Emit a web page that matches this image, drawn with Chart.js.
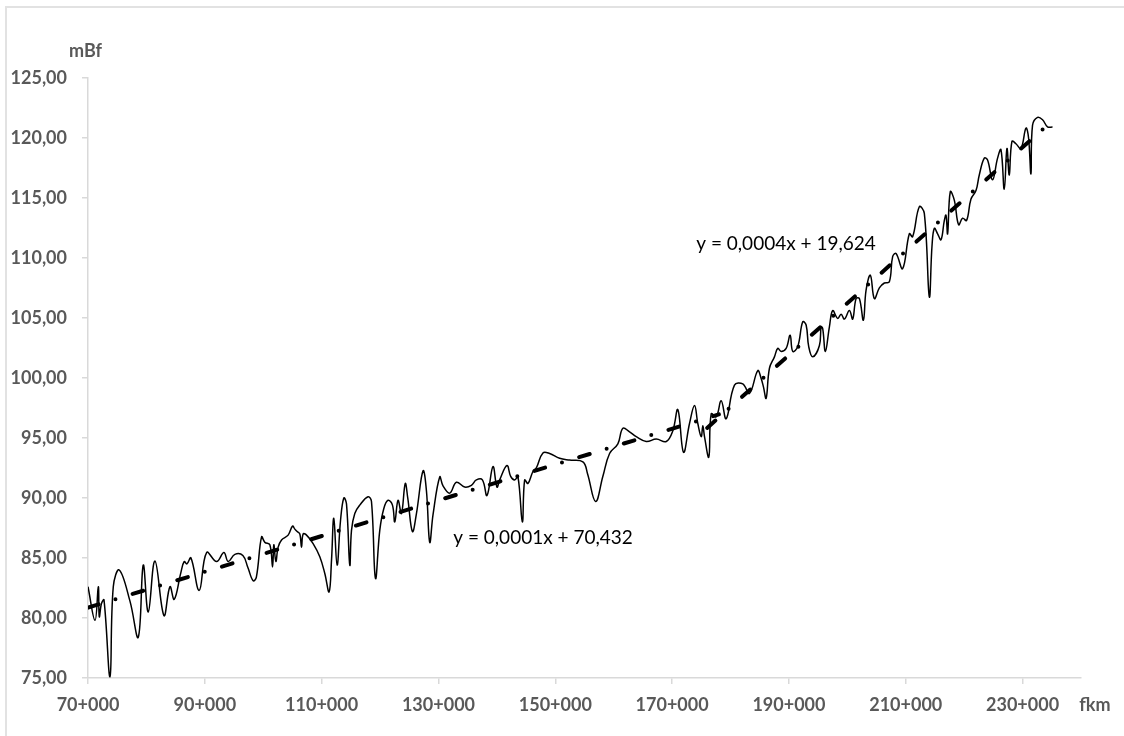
<!DOCTYPE html>
<html>
<head>
<meta charset="utf-8">
<title>mBf – fkm</title>
<script src="https://cdn.jsdelivr.net/npm/chart.js@4.4.1/dist/chart.umd.min.js"></script>
<style>
  html, body { margin: 0; padding: 0; background: #ffffff; }
  #wrap { position: relative; width: 1124px; height: 736px; overflow: hidden; }
  #frame { position: absolute; left: 5px; top: 6px; width: 1200px; height: 800px;
           border-left: 2px solid #e2e2e2; border-top: 2px solid #e2e2e2; box-sizing: border-box; }
  canvas { position: absolute; left: 0; top: 0; }
</style>
</head>
<body>
<div id="wrap">
  <div id="frame"></div>
  <canvas id="chart" width="1124" height="736"></canvas>
</div>
<script>
// Chainage along the river (m) and water level (m above Baltic)
const chainage = [
  70000, 71197, 71762, 71933, 72309, 72737, 73763, 74328, 75354, 77185,
  78604, 79460, 80315, 81461, 83001, 84027, 84763, 85909, 86473, 86935,
  87619, 89039, 90305, 92015, 93264, 93999, 95146, 96514, 97370, 98276,
  98824, 99713, 100278, 101133, 101595, 101817, 102159, 102553, 103134, 104263,
  105016, 105409, 105803, 106265, 106555, 106829, 107411, 108540, 109686, 110541,
  111277, 111688, 112081, 112646, 113227, 113791, 114253, 114818, 115109, 115673,
  116528, 117948, 118530, 119214, 119950, 120634, 121370, 122122, 122515, 123080,
  123661, 124312, 124740, 125544, 126228, 127357, 127939, 128503, 129068, 130213,
  130778, 131924, 133070, 134490, 135636, 136491, 137518, 138305, 139331, 140015,
  140477, 141726, 142359, 143043, 143608, 144360, 144754, 145318, 146174, 146755,
  147884, 149030, 150740, 152451, 154726, 155530, 156899, 158147, 159293, 160713,
  161569, 162715, 163861, 165571, 167282, 168993, 170122, 170977, 171952, 172978,
  173834, 174398, 174980, 175253, 175544, 176280, 176690, 177546, 178401, 179256,
  180676, 182096, 183242, 184661, 185243, 185637, 186098, 186663, 187518, 188083,
  188664, 189520, 190204, 190649, 191504, 192359, 192941, 193386, 194070, 195216,
  195507, 195781, 196242, 196927, 197491, 198347, 198928, 199493, 200348, 200913,
  201494, 202059, 202743, 203205, 203940, 204625, 205480, 206335, 207191, 207755,
  208337, 209466, 210612, 211176, 212322, 213177, 214033, 214494, 214888, 215452,
  216034, 216598, 216889, 217163, 217625, 218309, 219045, 219729, 220413, 221166,
  222021, 222586, 223441, 224006, 224861, 225717, 226298, 226863, 227325, 227718,
  228180, 228864, 229720, 230575, 231020, 231430, 231704, 232560, 233415, 234270,
  235126
];
const waterLevel = [
  82.6, 79.8, 82.6, 80.1, 81.2, 81.5, 75.1, 82.6, 84.0, 81.4,
  78.4, 84.4, 80.5, 84.75, 80.2, 82.6, 81.55, 83.8, 84.7, 84.5,
  85.0, 82.3, 85.45, 84.7, 85.45, 84.7, 85.3, 85.2, 84.2, 83.1,
  83.4, 86.75, 86.3, 86.1, 84.25, 86.1, 84.7, 85.9, 86.5, 86.9,
  87.65, 87.4, 87.2, 87.0, 85.9, 87.0, 86.9, 86.2, 85.1, 83.7,
  82.17, 84.8, 88.3, 84.4, 88.1, 90.0, 89.5, 84.4, 87.3, 88.7,
  89.4, 90.1, 89.7, 83.3, 87.3, 89.1, 89.8, 89.4, 88.0, 89.8,
  88.7, 91.2, 90.0, 87.2, 88.7, 92.25, 90.6, 86.3, 88.6, 91.75,
  91.0, 90.4, 91.3, 90.9, 91.05, 91.5, 91.5, 90.2, 92.6, 90.9,
  91.5, 92.7, 91.8, 91.5, 91.75, 88.0, 91.5, 91.2, 92.2, 92.5,
  93.75, 93.7, 93.3, 93.15, 93.0, 92.0, 89.7, 91.8, 93.7, 94.5,
  95.8, 95.5, 95.1, 94.7, 94.9, 94.7, 95.6, 97.35, 93.8, 96.2,
  97.7, 96.2, 95.1, 96.0, 95.1, 93.4, 97.0, 96.75, 98.1, 96.6,
  99.4, 99.5, 98.7, 100.6, 99.95, 99.25, 98.3, 100.8, 101.75, 102.45,
  102.2, 102.45, 103.55, 102.2, 102.6, 104.67, 104.4, 102.6, 101.75, 102.7,
  104.25, 104.1, 102.2, 104.25, 105.6, 104.95, 105.3, 104.9, 105.6, 104.9,
  106.6, 106.6, 104.8, 107.3, 108.55, 106.6, 107.5, 107.9, 108.0, 110.1,
  110.35, 109.1, 112.0, 111.75, 114.25, 113.7, 106.75, 111.0, 112.45, 112.0,
  111.5, 113.1, 113.55, 112.0, 115.5, 114.8, 112.75, 113.3, 113.1, 114.9,
  115.6, 116.9, 118.3, 118.15, 116.5, 118.3, 119.0, 115.7, 119.1, 116.9,
  119.7, 119.5, 119.1, 120.8, 120.0, 117.0, 121.05, 121.7, 121.5, 120.9,
  120.9
];

// Linear trends of the lower and upper reach: y = slope * x + intercept
const trendSlope     = [0.000149, 0.000433];
const trendIntercept = [70.432, 19.624];
const trendFrom      = [70000, 176000];
const trendTo        = [178000, 235000];

// Axis ticks
const xTicks = [70000, 90000, 110000, 130000, 150000, 170000, 190000, 210000, 230000];
const yTicks = [75, 80, 85, 90, 95, 100, 105, 110, 115, 120, 125];

const FONT = "Lato, 'Open Sans', 'Liberation Sans', sans-serif";
const GREY = '#595959';
const AXIS = '#d9d9d9';

const comma = (v, d) => v.toFixed(d).replace('.', ',');
const fmtKm = v => Math.floor(v / 1000) + '+' + String(Math.round(v % 1000)).padStart(3, '0');

const measured = chainage.map((x, i) => ({ x: x, y: waterLevel[i] }));
const trendData = trendSlope.map((s, i) => [
  { x: trendFrom[i], y: s * trendFrom[i] + trendIntercept[i] },
  { x: trendTo[i],   y: s * trendTo[i]   + trendIntercept[i] }
]);
const trendLabel = i => 'y = ' + comma(trendSlope[i], 4) + 'x + ' + comma(trendIntercept[i], 3);
// where each equation sits, in axis units (x, y)
const labelAt = [[147900, 86.65], [189500, 111.2]];

const trendStyle = {
  borderColor: '#000000',
  borderWidth: 4,
  borderDash: [11, 17.7, 0, 18],
  borderCapStyle: 'round',
  pointRadius: 0,
  tension: 0,
  fill: false,
  order: 0
};

const annotations = {
  id: 'annotations',
  afterDraw(chart) {
    const { ctx, scales: { x, y } } = chart;
    ctx.save();
    // axis titles
    ctx.fillStyle = GREY;
    ctx.font = 'bold 18px ' + FONT;
    ctx.textAlign = 'center';
    ctx.textBaseline = 'middle';
    ctx.fillText('mBf', 85.5, 51);
    ctx.fillText('fkm', 1095, 705);
    // trend equations
    ctx.fillStyle = '#000000';
    ctx.font = '19px ' + FONT;
    labelAt.forEach((p, i) => {
      ctx.fillText(trendLabel(i), x.getPixelForValue(p[0]), y.getPixelForValue(p[1]));
    });
    ctx.restore();
  }
};

new Chart(document.getElementById('chart'), {
  type: 'line',
  data: {
    datasets: [
      Object.assign({ label: 'trend lower', data: trendData[0] }, trendStyle),
      Object.assign({ label: 'trend upper', data: trendData[1] }, trendStyle),
      {
        label: 'mBf',
        data: measured,
        borderColor: '#000000',
        borderWidth: 1.5,
        pointRadius: 0,
        tension: 0.4,
        fill: false,
        order: 1
      }
    ]
  },
  options: {
    responsive: false,
    animation: false,
    devicePixelRatio: 1,
    layout: { padding: { left: 0, top: 77.7, right: 43, bottom: 0 } },
    plugins: { legend: { display: false }, tooltip: { enabled: false } },
    scales: {
      x: {
        type: 'linear',
        min: 70000,
        max: 240000,
        afterBuildTicks: s => { s.ticks = xTicks.map(v => ({ value: v })); },
        afterFit: s => { s.height = 58; },
        border: { display: true, color: AXIS, width: 1.5 },
        grid: { drawOnChartArea: false, drawTicks: true, tickLength: 6, color: AXIS, lineWidth: 1.5 },
        ticks: {
          padding: 10,
          maxRotation: 0,
          autoSkip: false,
          color: GREY,
          font: { family: FONT, size: 18, weight: 'bold' },
          callback: v => fmtKm(v)
        }
      },
      y: {
        type: 'linear',
        min: 75,
        max: 125,
        afterBuildTicks: s => { s.ticks = yTicks.map(v => ({ value: v })); },
        afterFit: s => { s.width = 88; },
        border: { display: true, color: AXIS, width: 1.5 },
        grid: { drawOnChartArea: false, drawTicks: true, tickLength: 6, color: AXIS, lineWidth: 1.5 },
        ticks: {
          padding: 15,
          autoSkip: false,
          color: GREY,
          font: { family: FONT, size: 18, weight: 'bold' },
          callback: v => comma(v, 2)
        }
      }
    }
  },
  plugins: [annotations]
});
</script>
</body>
</html>
